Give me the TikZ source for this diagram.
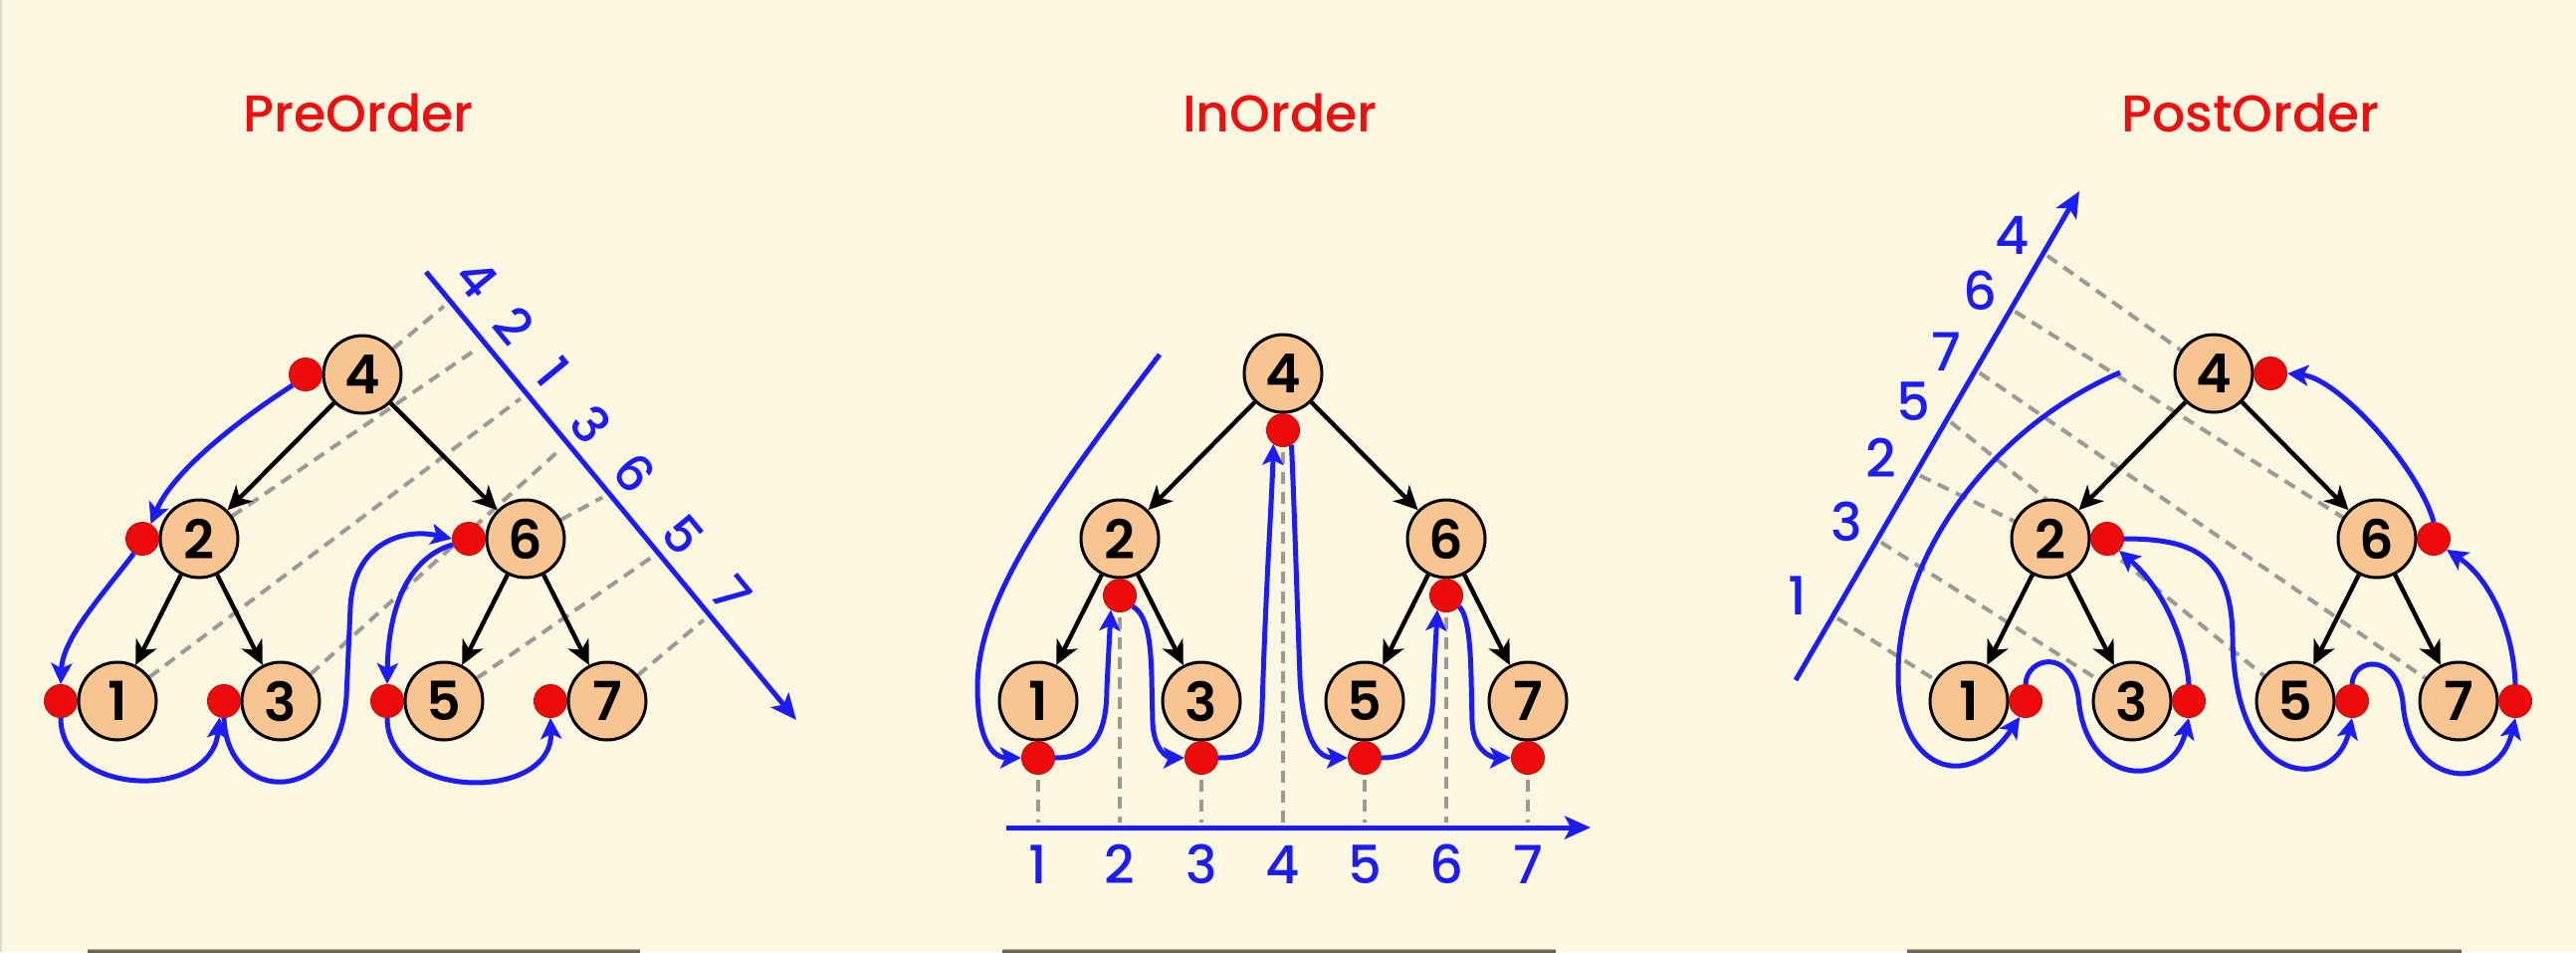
\documentclass[tikz,border=0pt]{standalone}
\usepackage{fontspec}
\setmainfont{Poppins}
\newfontfamily\medf{Poppins Medium}
\newfontfamily\semif{Poppins SemiBold}
\usetikzlibrary{arrows.meta,calc}
\definecolor{bgc}{RGB}{252,247,225}
\definecolor{peach}{RGB}{248,196,146}
\definecolor{dotred}{RGB}{236,10,10}
\definecolor{dotedge}{RGB}{185,20,20}
\definecolor{trav}{RGB}{28,28,245}
\definecolor{dashg}{RGB}{155,155,150}
\definecolor{titlered}{RGB}{236,16,16}
\definecolor{barc}{RGB}{104,102,90}
\definecolor{barhi}{RGB}{175,172,155}
\definecolor{edgec}{RGB}{222,219,202}
\tikzset{
 tnode/.style={circle, draw=black, line width=3pt, fill=peach, minimum size=78pt, inner sep=0pt, font=\semif\fontsize{54}{54}\selectfont},
 rdot/.style={circle, fill=dotred, draw=dotedge, line width=1pt, minimum size=33pt, inner sep=0pt},
 tedge/.style={line width=4.4pt, -{Stealth[length=24pt,width=23pt,inset=7pt]}},
 tpath/.style={draw=trav, line width=5pt, -{Stealth[length=21pt,width=21pt,inset=5pt]}},
 taxis/.style={draw=trav, line width=5pt, -{Stealth[length=26pt,width=23pt,inset=6pt]}},
 proj/.style={draw=dashg, line width=4pt, dash pattern=on 12pt off 8pt},
 ttitle/.style={text=titlered, font=\medf\fontsize{52}{52}\selectfont},
 alabel/.style={text=trav, font=\medf\fontsize{53}{53}\selectfont, inner sep=0pt},
 rlabel/.style={text=trav, font=\medf\fontsize{51}{51}\selectfont, inner sep=0pt, rotate=-50.4},
 bar/.style={fill=barc},
 barline/.style={draw=barhi, line width=1.2pt},
 frameline/.style={draw=edgec, line width=2pt}
}
\begin{document}
\begin{tikzpicture}[x=1pt,y=-1pt]
\fill[bgc] (0,0) rectangle (2588,956);
\useasboundingbox (0,0) rectangle (2588,956);
\draw[frameline] (1,0) -- (1,956);

% titles
\node[ttitle] (tpre) at (360,113) {PreOrder};
\node[ttitle] (tin) at (1286,113) {InOrder};
\node[ttitle] (tpost) at (2261,113) {PostOrder};

% bottom bars
\foreach \a/\b in {88/643,1007/1563,1916/2473}{
  \fill[bar] (\a,953) rectangle (\b,958);
  \draw[barline] (\a,953.6) -- (\b,953.6);
}

% ================= PreOrder =================
\coordinate (A4) at (364,376);
\coordinate (A2) at (200,541);
\coordinate (A6) at (528,541);
\coordinate (A1) at (118,704);
\coordinate (A3) at (282,704);
\coordinate (A5) at (446,704);
\coordinate (A7) at (610,704);
\coordinate (PA) at (428,273);
\coordinate (PB) at (800,723);
\coordinate (pa4) at (452.2,302.3);
\coordinate (pa2) at (487.3,344.7);
\coordinate (pa1) at (529.3,395.5);
\coordinate (pa3) at (570.1,444.8);
\coordinate (pa6) at (612.2,495.7);
\coordinate (pa5) at (661.3,555);
\coordinate (pa7) at (712.9,617.5);
\foreach \n in {4,2,1,3,6,5,7} \draw[proj, shorten >=8pt] (A\n) -- (pa\n);
\draw[taxis] (PA) -- (PB);
\node[rlabel] (pl4) at (479,280) {4};
\node[rlabel] (pl2) at (516,327) {2};
\node[rlabel] (pl1) at (556,374) {1};
\node[rlabel] (pl3) at (594,426) {3};
\node[rlabel] (pl6) at (638,475) {6};
\node[rlabel] (pl5) at (686,537) {5};
\node[rlabel] (pl7) at (735,597) {7};
\foreach \n in {1,...,7} \node[tnode] (a\n) at (A\n) {\n};
\draw[tedge] (a4) -- (a2);
\draw[tedge] (a4) -- (a6);
\draw[tedge] (a2) -- (a1);
\draw[tedge] (a2) -- (a3);
\draw[tedge] (a6) -- (a5);
\draw[tedge] (a6) -- (a7);
\foreach \n in {1,...,7} \node[rdot] (pd\n) at ($(A\n)+(-57,0)$) {};
\draw[tpath] (pd4.220) .. controls (250,415) and (175,470) .. (pd2.60);
\draw[tpath] (pd2.240) .. controls (105,595) and (63,640) .. (pd1.north);
\draw[tpath] (pd1.south) .. controls (61,800) and (212,805) .. (pd3.255);
\draw[tpath] (pd3.south) .. controls (228,808) and (340,812) .. (348,700) -- (352,610) .. controls (355,545) and (405,530) .. (pd6.west);
\draw[tpath] (pd6.200) .. controls (410,560) and (390,610) .. (pd5.north);
\draw[tpath] (pd5.south) .. controls (389,805) and (556,805) .. (pd7.south);

% ================= InOrder =================
\coordinate (B4) at (1289,375);
\coordinate (B2) at (1125,541);
\coordinate (B6) at (1453,541);
\coordinate (B1) at (1043,704);
\coordinate (B3) at (1207,704);
\coordinate (B5) at (1371,704);
\coordinate (B7) at (1535,704);
\coordinate (qaxL) at (1011,831);
\coordinate (qaxR) at (1598,831);
\coordinate (qlab) at (0,868);
\coordinate (qstart) at (1165,356);
\foreach \n in {1,...,7} \coordinate (Q\n) at ($(B\n)+(0,57)$);
\foreach \n in {1,...,7} \draw[proj, shorten >=5pt] ([yshift=-5pt]Q\n) ++(0,17) -- (Q\n |- qaxL);
\draw[taxis] (qaxL) -- (qaxR);
\foreach \n in {1,...,7} \node[alabel] (ql\n) at (Q\n |- qlab) {\n};
\foreach \n in {1,...,7} \node[tnode] (b\n) at (B\n) {\n};
\draw[tedge] (b4) -- (b2);
\draw[tedge] (b4) -- (b6);
\draw[tedge] (b2) -- (b1);
\draw[tedge] (b2) -- (b3);
\draw[tedge] (b6) -- (b5);
\draw[tedge] (b6) -- (b7);
\foreach \n in {1,...,7} \node[rdot] (qd\n) at (Q\n) {};
\draw[tpath] (qstart) .. controls (1060,495) and (982,600) .. (982,690) .. controls (982,748) and (1000,761) .. (qd1.west);
\draw[tpath] (qd1.east) .. controls (1100,761) and (1112,735) .. (1112,690) -- (qd2.238);
\draw[tpath] (qd2.-40) .. controls (1152,618) and (1156,640) .. (1157,680) -- (1158,725) .. controls (1159,755) and (1175,761) .. (qd3.west);
\draw[tpath] (qd3.east) .. controls (1262,761) and (1267,748) .. (1268,710) .. controls (1272,580) and (1278,500) .. (qd4.235);
\draw[tpath] (qd4.-60) .. controls (1300,500) and (1303,600) .. (1306,680) .. controls (1309,745) and (1325,761) .. (qd5.west);
\draw[tpath] (qd5.east) .. controls (1428,761) and (1440,735) .. (1440,690) -- (qd6.238);
\draw[tpath] (qd6.-40) .. controls (1474,618) and (1477,640) .. (1478,680) -- (1479,725) .. controls (1480,755) and (1500,761) .. (qd7.west);

% ================= PostOrder =================
\coordinate (C4) at (2224,375);
\coordinate (C2) at (2060,541);
\coordinate (C6) at (2388,541);
\coordinate (C1) at (1978,704);
\coordinate (C3) at (2142,704);
\coordinate (C5) at (2306,704);
\coordinate (C7) at (2470,704);
\coordinate (RA) at (1804,683);
\coordinate (RB) at (2089,192);
\coordinate (ra1) at (1841.6,618.1);
\coordinate (ra3) at (1885.7,542);
\coordinate (ra2) at (1924.4,475.4);
\coordinate (ra5) at (1956,420.8);
\coordinate (ra7) at (1984.5,371.5);
\coordinate (ra6) at (2020.1,310.1);
\coordinate (ra4) at (2052.7,253.9);
\coordinate (rstart) at (2130,374);
\foreach \n in {1,3,2,5,7,6,4} \draw[proj, shorten <=5pt] (ra\n) -- (C\n);
\draw[taxis] (RA) -- (RB);
\node[alabel] (rl1) at (1806,598) {1};
\node[alabel] (rl3) at (1855,524) {3};
\node[alabel] (rl2) at (1890,460) {2};
\node[alabel] (rl5) at (1922,403) {5};
\node[alabel] (rl7) at (1955,353) {7};
\node[alabel] (rl6) at (1989,292) {6};
\node[alabel] (rl4) at (2022,236) {4};
\foreach \n in {1,...,7} \node[tnode] (c\n) at (C\n) {\n};
\draw[tedge] (c4) -- (c2);
\draw[tedge] (c4) -- (c6);
\draw[tedge] (c2) -- (c1);
\draw[tedge] (c2) -- (c3);
\draw[tedge] (c6) -- (c5);
\draw[tedge] (c6) -- (c7);
\foreach \n in {1,...,7} \node[rdot] (rd\n) at ($(C\n)+(57,0)$) {};
\draw[tpath] (rstart) .. controls (2000,430) and (1905,560) .. (1907,680) .. controls (1907,770) and (1975,800) .. (rd1.250);
\draw[tpath] (rd1.north) .. controls (2036,660) and (2080,650) .. (2088,700) .. controls (2095,792) and (2182,792) .. (rd3.south);
\draw[tpath] (rd3.north) .. controls (2195,640) and (2172,590) .. (rd2.-45);
\draw[tpath] (rd2.east) .. controls (2200,541) and (2242,555) .. (2243,640) .. controls (2244,795) and (2346,795) .. (rd5.south);
\draw[tpath] (rd5.north) .. controls (2364,660) and (2408,655) .. (2414,705) .. controls (2420,795) and (2510,795) .. (rd7.south);
\draw[tpath] (rd7.north) .. controls (2525,630) and (2500,580) .. (rd6.-40);
\draw[tpath] (rd6.north) .. controls (2430,470) and (2350,380) .. (rd4.east);
\end{tikzpicture}
\end{document}
